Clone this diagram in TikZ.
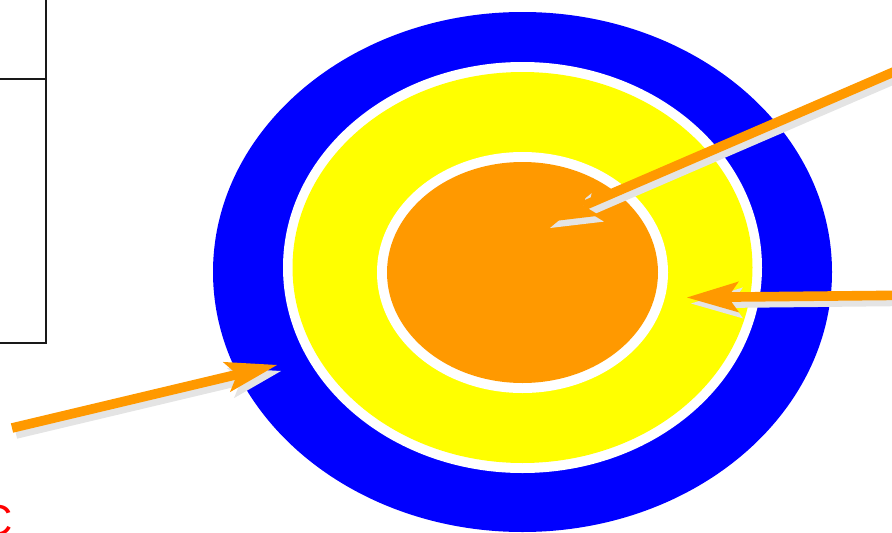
\documentclass[tikz,border=0pt]{standalone}
\usepackage{fontspec}
\setmainfont{Liberation Sans}
\usetikzlibrary{arrows.meta}
\definecolor{ringblue}{RGB}{0,0,255}
\definecolor{ringyellow}{RGB}{255,255,0}
\definecolor{ringorange}{RGB}{255,153,0}
\definecolor{shadowgray}{RGB}{228,228,228}
\definecolor{cellline}{RGB}{25,25,25}
\begin{document}
\begin{tikzpicture}[x=0.03cm, y=-0.03cm,
          cellbox/.style={draw=cellline, line width=2.4pt},
          pointer/.style={line width=8.2pt, -{Stealth[length=1.56cm, width=0.93cm, inset=0.33cm, line width=0pt]}},
          pointershadow/.style={pointer, shadowgray, transform canvas={xshift=0.12cm, yshift=-0.18cm}}]
        \useasboundingbox (0,0) rectangle (892,533);
        \clip (0,0) rectangle (892,533);
        \foreach \cy/\rx/\ry/\col in {272/309.5/260/ringblue, 267.5/239.5/205.5/white,
            267.5/230/195.5/ringyellow, 272.5/145.5/120.5/white, 272.5/135.5/110.5/ringorange} {
          \fill[\col] (522.5,\cy) ellipse [x radius=\rx, y radius=\ry];
        }
        \draw[cellbox] (-10,-10) rectangle (46,79);
        \draw[cellbox] (-10,79) rectangle (46,343);
        \node[text=red, font=\fontsize{37}{40}\selectfont, inner sep=0pt, anchor=east] (cmark) at (13,521) {C};
        \coordinate (coreTail) at (910,64.9);
        \coordinate (coreTip) at (546,222);
        \coordinate (yellowTail) at (910,295.2);
        \coordinate (yellowTip) at (687,297.5);
        \coordinate (blueTail) at (12,428);
        \coordinate (blueTip) at (277,365);
        \foreach \tail/\tip in {coreTail/coreTip, yellowTail/yellowTip, blueTail/blueTip} {
          \draw[pointershadow] (\tail) -- (\tip);
        }
        \foreach \tail/\tip in {coreTail/coreTip, yellowTail/yellowTip, blueTail/blueTip} {
          \draw[pointer, ringorange] (\tail) -- (\tip);
        }
      \end{tikzpicture}
\end{document}
